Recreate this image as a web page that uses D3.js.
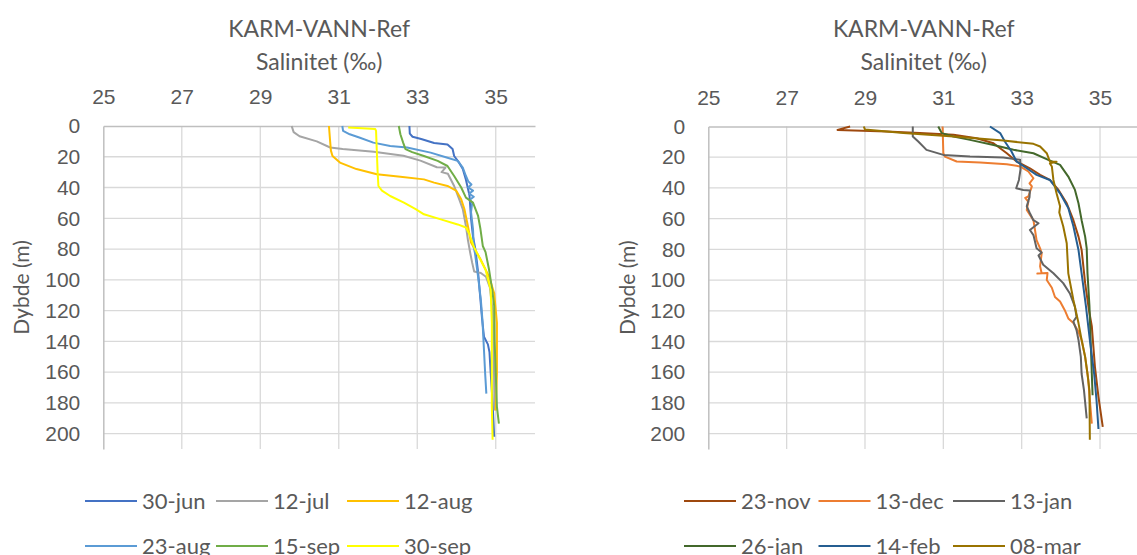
<!doctype html>
<html lang="en">
<head>
<meta charset="utf-8">
<title>KARM-VANN-Ref Salinitet</title>
<script src="https://cdn.jsdelivr.net/npm/d3@7"></script>
<style>
  body { margin: 0; background: #fff; }
  svg { display: block; font-family: Lato, "Open Sans", sans-serif; }
</style>
</head>
<body>
<script>
// tick values
const salTicks = [25, 27, 29, 31, 33, 35];
const depthTicks = [0, 20, 40, 60, 80, 100, 120, 140, 160, 180, 200];

// summer / autumn profiles: [salinity, depth]
const summerNames = ["30-jun", "12-jul", "12-aug", "23-aug", "15-sep", "30-sep"];
const summerColors = ["#4472C4", "#A5A5A5", "#FFC000", "#5B9BD5", "#70AD47", "#FFFF00"];
const jun30 = [[32.8,0],[32.81,5],[32.88,7],[33.1,8.5],[33.43,11],[33.77,12],[33.9,15],[33.94,19.5],[34.07,24],[34.16,28],[34.24,35],[34.33,45],[34.37,60],[34.42,72],[34.48,80],[34.55,95],[34.6,110],[34.65,125],[34.7,137],[34.8,142],[34.84,147],[34.87,160],[34.92,180],[34.96,202]];
const jul12 = [[29.8,0],[29.85,4],[30.0,6.7],[30.44,10],[30.78,14],[31.1,15],[31.89,16.7],[32.65,19.3],[33.08,22.5],[33.5,26.8],[33.72,27],[33.62,30],[33.78,31],[33.94,39],[34.07,47.7],[34.16,54],[34.24,65],[34.29,74],[34.35,82.6],[34.4,89],[34.45,94.6],[34.62,95.6],[34.75,98],[34.85,105],[34.92,120],[34.95,150],[34.97,185]];
const aug12 = [[30.75,0],[30.78,10],[30.8,16],[30.84,19.5],[31.03,23.8],[31.45,28],[31.97,31.4],[32.57,33],[33.17,34.7],[33.43,36.8],[33.77,39],[33.99,42],[34.12,47.7],[34.2,54],[34.29,65],[34.37,75.8],[34.62,87],[34.83,98],[34.96,108.7],[35.03,128],[35.03,161],[35.0,185]];
const aug23 = [[31.09,0],[31.11,3.2],[31.28,5.4],[31.54,7.6],[31.88,10.8],[32.31,13],[32.74,14],[33.34,17.3],[33.77,20.6],[34.03,22.7],[34.16,27],[34.24,32.5],[34.3,36],[34.38,38],[34.3,40],[34.42,42],[34.32,44],[34.44,46],[34.34,48],[34.4,50],[34.37,56],[34.42,67],[34.44,79],[34.47,82.6],[34.56,100],[34.62,113],[34.66,126],[34.7,145.6],[34.73,161],[34.76,174]];
const sep15 = [[32.53,0],[32.57,5.4],[32.64,10.8],[32.7,15],[32.87,17],[33.17,19.5],[33.52,22.7],[33.77,26],[33.94,32.5],[34.12,40],[34.24,46.6],[34.42,49.8],[34.55,58.5],[34.61,67],[34.67,78],[34.74,82],[34.83,93.5],[34.91,106.5],[34.96,117],[34.97,139],[35.0,161],[35.03,182.6],[35.08,193.5]];
const sep30 = [[31.24,1],[31.6,1.5],[31.93,2],[31.95,3.2],[31.97,17],[31.99,30],[32.01,39],[32.1,42],[32.31,45.5],[32.66,49.8],[32.96,54],[33.17,57.4],[33.6,60.7],[34.03,64],[34.24,66],[34.33,70.4],[34.45,79],[34.55,84],[34.74,93.5],[34.87,106.5],[34.9,128],[34.9,161],[34.9,182.6],[34.92,204]];

// winter profiles
const winterNames = ["23-nov", "13-dec", "13-jan", "26-jan", "14-feb", "08-mar"];
const winterColors = ["#9E480E", "#ED7D31", "#636363", "#43682B", "#255E91", "#997300"];
const nov23 = [[28.62,0],[28.3,2.2],[29.55,3.3],[30.4,4.3],[31.26,5.4],[31.85,7.6],[32.28,10.9],[32.62,17.4],[32.87,22.8],[33.21,27.2],[33.47,31.5],[33.72,34.8],[33.94,41.3],[34.15,50],[34.32,61],[34.45,71.7],[34.53,80.4],[34.62,102],[34.72,120],[34.79,130],[34.87,156.5],[34.96,176],[35.07,195.6]];
const dec13 = [[30.98,0],[31.0,17.4],[31.04,19.6],[31.34,22.8],[31.94,23.5],[32.62,24.6],[32.96,26],[33.17,29.3],[33.3,33.7],[33.2,37],[33.26,39],[33.17,45.6],[33.09,46.5],[33.17,49],[33.13,54.3],[33.3,61],[33.34,67.4],[33.38,74],[33.47,79.3],[33.51,82.6],[33.47,91],[33.51,95.6],[33.4,95.8],[33.66,95.4],[33.64,100],[33.77,105],[33.85,111],[33.98,114],[34.1,119.6],[34.19,125],[34.32,128],[34.45,133.7],[34.53,139],[34.62,150],[34.7,165],[34.74,178],[34.79,193.5]];
const jan13 = [[30.22,0],[30.22,6.5],[30.36,9.8],[30.57,15.2],[31.0,18.5],[31.68,19.6],[32.53,20.2],[32.96,21.7],[32.97,28],[32.93,34.8],[32.86,40.2],[33.04,41.3],[33.21,41.7],[33.2,46],[33.13,52],[33.21,56.5],[33.3,61],[33.43,63],[33.21,67.4],[33.3,70.7],[33.38,79.3],[33.51,82],[33.43,84],[33.55,90],[33.81,95.6],[34.06,102],[34.23,108.7],[34.36,117.4],[34.4,124],[34.32,127],[34.4,132.6],[34.45,139],[34.51,150],[34.53,161],[34.59,171.7],[34.66,190]];
const jan26 = [[30.87,0],[30.96,4.3],[31.26,6.5],[31.68,8.7],[32.28,12],[32.79,15.2],[33.3,17.4],[33.68,21.7],[33.98,25],[34.19,32.6],[34.36,41.3],[34.45,50],[34.53,61],[34.62,71.7],[34.66,79.3],[34.68,95.6],[34.73,117],[34.76,139],[34.79,161],[34.81,175]];
const feb14 = [[32.19,0],[32.45,4.3],[32.57,9.8],[32.74,16.3],[32.87,22.8],[33.13,27.2],[33.38,31.5],[33.72,34.8],[33.98,43.5],[34.19,53],[34.32,65],[34.45,80.4],[34.53,95.6],[34.64,117],[34.74,139],[34.85,161],[34.91,178],[34.96,197]];
const mar08 = [[28.97,0],[29.0,2],[29.98,4.3],[31.26,6.5],[32.53,9.1],[33.3,11.3],[33.47,13],[33.64,17.4],[33.72,22.8],[33.89,23],[33.72,24],[33.77,26],[33.81,34.8],[33.89,43.5],[33.98,52],[33.96,56],[34.06,65],[34.15,76],[34.19,95.6],[34.32,113],[34.45,128],[34.53,139],[34.62,150],[34.68,161],[34.73,172],[34.74,204]];

const W = 1137, H = 555;
const textColor = "#595959";

const svg = d3.select("body").append("svg")
  .attr("width", W)
  .attr("height", H);

function drawChart(opts) {
  const x = d3.scaleLinear().domain([25, 36]).range([opts.left, opts.right]);
  const y = d3.scaleLinear().domain([0, 210]).range([opts.top, opts.bottom]);
  const g = svg.append("g");
  const midX = (opts.left + opts.right) / 2;

  // titles
  g.append("text")
    .attr("x", midX).attr("y", 37)
    .attr("text-anchor", "middle")
    .attr("font-size", 23).attr("fill", textColor)
    .text("KARM-VANN-Ref");
  g.append("text")
    .attr("x", midX).attr("y", 70)
    .attr("text-anchor", "middle")
    .attr("font-size", 23).attr("fill", textColor)
    .text("Salinitet (‰)");

  // gridlines
  g.append("g").selectAll("line")
    .data(depthTicks.slice(1))
    .join("line")
    .attr("x1", opts.left).attr("x2", opts.right)
    .attr("y1", d => y(d)).attr("y2", d => y(d))
    .attr("stroke", "#D9D9D9").attr("stroke-width", 1.3);
  g.append("g").selectAll("line")
    .data(salTicks.slice(1))
    .join("line")
    .attr("x1", d => x(d)).attr("x2", d => x(d))
    .attr("y1", opts.top).attr("y2", opts.bottom)
    .attr("stroke", "#D9D9D9").attr("stroke-width", 1.3);

  // axes
  const xAxis = d3.axisTop(x).tickValues(salTicks).tickSize(0).tickPadding(22);
  const gx = g.append("g")
    .attr("transform", "translate(0," + opts.top + ")")
    .call(xAxis);
  gx.select(".domain").attr("stroke", "#BFBFBF").attr("stroke-width", 1.5);
  gx.selectAll("text").attr("font-size", 21).attr("fill", textColor).attr("font-family", null);

  const yAxis = d3.axisLeft(y).tickValues(depthTicks).tickSize(0).tickPadding(23);
  const gy = g.append("g")
    .attr("transform", "translate(" + opts.left + ",0)")
    .call(yAxis);
  gy.select(".domain").attr("stroke", "#BFBFBF").attr("stroke-width", 1.5);
  gy.selectAll("text").attr("font-size", 21).attr("fill", textColor).attr("font-family", null);

  g.append("text")
    .attr("transform", "translate(" + opts.yLabelX + "," + (opts.top + opts.bottom) / 2 + ") rotate(-90)")
    .attr("text-anchor", "middle")
    .attr("font-size", 21).attr("fill", textColor)
    .text("Dybde (m)");

  // profiles
  const line = d3.line().x(d => x(d[0])).y(d => y(d[1]));
  g.append("g").selectAll("path")
    .data(opts.series)
    .join("path")
    .attr("d", d => line(d))
    .attr("fill", "none")
    .attr("stroke", (d, i) => opts.colors[i])
    .attr("stroke-width", 2)
    .attr("stroke-linejoin", "round");

  // legend, 3 per row
  const leg = g.append("g").selectAll("g")
    .data(opts.names)
    .join("g")
    .attr("transform", (d, i) => "translate(" + (opts.legX + (i % 3) * opts.legStep) + "," + (501 + Math.floor(i / 3) * 45) + ")");
  leg.append("line")
    .attr("x1", 0).attr("x2", 52)
    .attr("stroke", (d, i) => opts.colors[i]).attr("stroke-width", 2);
  leg.append("text")
    .attr("x", 57).attr("dy", "0.35em")
    .attr("font-size", 22).attr("fill", textColor)
    .text(d => d);
}

drawChart({
  left: 103.3, right: 535, top: 126, bottom: 449,
  yLabelX: 29,
  series: [jun30, jul12, aug12, aug23, sep15, sep30],
  names: summerNames, colors: summerColors,
  legX: 85, legStep: 131
});

drawChart({
  left: 708.3, right: 1139.2, top: 126.5, bottom: 449,
  yLabelX: 635,
  series: [nov23, dec13, jan13, jan26, feb14, mar08],
  names: winterNames, colors: winterColors,
  legX: 684, legStep: 134.5
});
</script>
</body>
</html>
